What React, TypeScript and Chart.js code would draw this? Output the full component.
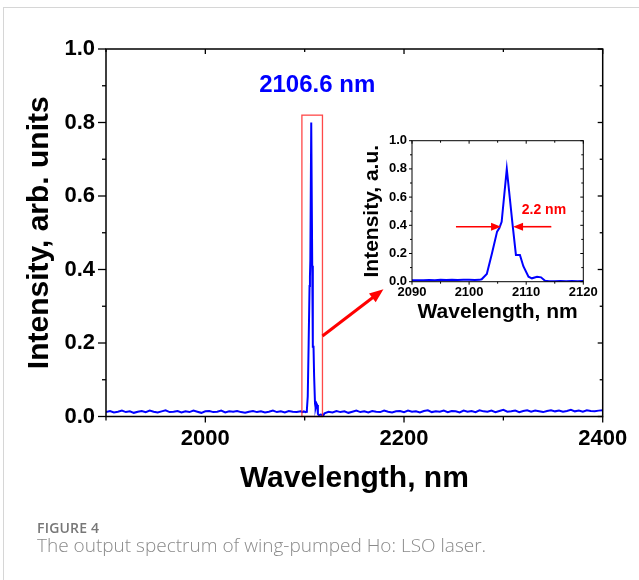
import React, { useEffect, useRef } from "react";
import { Chart, registerables } from "chart.js";

Chart.register(...registerables);

// ---------- data ----------
const MAIN_X_MIN = 1900;
const MAIN_X_MAX = 2400;
const MAIN_X_LABELS = [2000, 2200, 2400];
const MAIN_X_MINOR = [1900, 2100, 2300];
const MAIN_Y_LABELS = [0, 0.2, 0.4, 0.6, 0.8, 1.0];
const MAIN_Y_MINOR = [0.1, 0.3, 0.5, 0.7, 0.9];

// background noise of the full spectrum (sampled every 4 nm)
const BASE_STEP = 4;
const BASE_LEFT_START = 1900;
const BASE_LEFT = [
  0.012, 0.015, 0.011, 0.013, 0.016, 0.012, 0.014, 0.010, 0.013, 0.015,
  0.012, 0.016, 0.013, 0.011, 0.014, 0.017, 0.012, 0.013, 0.015, 0.011,
  0.014, 0.012, 0.016, 0.013, 0.010, 0.014, 0.015, 0.012, 0.013, 0.016,
  0.011, 0.014, 0.013, 0.015, 0.012, 0.010, 0.013, 0.015, 0.012, 0.014,
  0.011, 0.013, 0.016, 0.012, 0.014, 0.011, 0.015, 0.013, 0.012, 0.014,
];
const BASE_RIGHT_START = 2120;
const BASE_RIGHT = [
  0.009, 0.013, 0.011, 0.015, 0.012, 0.014, 0.010, 0.013, 0.016, 0.012,
  0.014, 0.011, 0.015, 0.013, 0.012, 0.016, 0.013, 0.011, 0.014, 0.015,
  0.012, 0.016, 0.013, 0.014, 0.011, 0.015, 0.017, 0.012, 0.014, 0.013,
  0.016, 0.012, 0.015, 0.014, 0.011, 0.016, 0.013, 0.015, 0.012, 0.017,
  0.014, 0.013, 0.016, 0.012, 0.015, 0.018, 0.013, 0.014, 0.016, 0.012,
  0.015, 0.017, 0.013, 0.016, 0.014, 0.012, 0.015, 0.017, 0.014, 0.016,
  0.013, 0.015, 0.018, 0.014, 0.016, 0.013, 0.017, 0.015, 0.014, 0.016,
  0.017,
];

// lasing line (used in the main plot and in the inset)
const PEAK_WL = [
  2090, 2091, 2092, 2093, 2094, 2095, 2096, 2097, 2098, 2099,
  2100, 2101, 2101.8, 2102.2, 2103.1, 2104.0, 2104.9, 2105.3, 2105.7, 2106.6,
  2107.6, 2108.2, 2108.9, 2109.5, 2110.4, 2111.0, 2111.9, 2112.6, 2113.3, 2114.0,
  2115, 2116, 2117, 2118, 2119, 2120,
];
const PEAK_INT = [
  0.010, 0.011, 0.010, 0.012, 0.011, 0.013, 0.012, 0.013, 0.012, 0.014,
  0.013, 0.012, 0.013, 0.017, 0.055, 0.20, 0.355, 0.38, 0.425, 0.80,
  0.41, 0.19, 0.19, 0.11, 0.035, 0.024, 0.035, 0.031, 0.007, 0.004,
  0.004, 0.005, 0.004, 0.005, 0.004, 0.005,
];

const INSET_X_MIN = 2090;
const INSET_X_MAX = 2120;
const INSET_X_LABELS = [2090, 2100, 2110, 2120];
const INSET_X_MINOR = [2095, 2105, 2115];
const INSET_Y_LABELS = [0, 0.2, 0.4, 0.6, 0.8, 1.0];
const INSET_Y_MINOR = [0.1, 0.3, 0.5, 0.7, 0.9];

// annotations (data units)
const PEAK_LABEL = "2106.6 nm";
const PEAK_LABEL_AT = [2112.6, 0.9];
const ZOOM_BOX = [2097.2, 0, 2117.9, 0.82];
const ZOOM_ARROW = [2117.9, 0.219, 2179.3, 0.346];
const FWHM_LABEL = "2.2 nm";
const FWHM_LABEL_AT = [2113.1, 0.505];
const FWHM_LEVEL = 0.39;
const FWHM_LEFT_ARROW = [2097.7, 2105.6];
const FWHM_RIGHT_ARROW = [2114.4, 2107.7];

const CAPTION_LABEL = "FIGURE 4";
const CAPTION_TEXT = "The output spectrum of wing-pumped Ho: LSO laser.";

// ---------- helpers ----------
const FONT = "'Liberation Sans', Arial, Helvetica, sans-serif";
const BLUE = "rgb(0,0,255)";
const RED = "rgb(255,0,0)";

function line(ctx: CanvasRenderingContext2D, x1: number, y1: number, x2: number, y2: number) {
  ctx.beginPath();
  ctx.moveTo(x1, y1);
  ctx.lineTo(x2, y2);
  ctx.stroke();
}

function arrow(
  ctx: CanvasRenderingContext2D,
  x1: number, y1: number, x2: number, y2: number,
  headLen: number, headHalf: number, width: number, color: string
) {
  const ang = Math.atan2(y2 - y1, x2 - x1);
  const bx = x2 - headLen * Math.cos(ang);
  const by = y2 - headLen * Math.sin(ang);
  ctx.save();
  ctx.strokeStyle = color;
  ctx.fillStyle = color;
  ctx.lineWidth = width;
  line(ctx, x1, y1, bx + Math.cos(ang), by + Math.sin(ang));
  ctx.beginPath();
  ctx.moveTo(x2, y2);
  ctx.lineTo(bx + headHalf * Math.sin(ang), by - headHalf * Math.cos(ang));
  ctx.lineTo(bx - headHalf * Math.sin(ang), by + headHalf * Math.cos(ang));
  ctx.closePath();
  ctx.fill();
  ctx.restore();
}

function frameAndTicks(
  chart: any,
  xMajor: number[], xMinor: number[], yMajor: number[], yMinor: number[],
  t: { frame: number; tick: number; outMaj: number; outMin: number; outMajX: number; outMinX: number; inMaj: number; inMin: number }
) {
  const ctx: CanvasRenderingContext2D = chart.ctx;
  const ca = chart.chartArea;
  const xs = chart.scales.x;
  const ys = chart.scales.y;
  ctx.save();
  ctx.strokeStyle = "#000";
  ctx.lineWidth = t.frame;
  ctx.strokeRect(ca.left, ca.top, ca.right - ca.left, ca.bottom - ca.top);
  ctx.lineWidth = t.tick;
  const xt = (v: number, out: number, inn: number) => {
    const p = xs.getPixelForValue(v);
    line(ctx, p, ca.bottom, p, ca.bottom + out);
    line(ctx, p, ca.top, p, ca.top + inn);
  };
  const yt = (v: number, out: number, inn: number) => {
    const p = ys.getPixelForValue(v);
    line(ctx, ca.left - out, p, ca.left, p);
    line(ctx, ca.right, p, ca.right - inn, p);
  };
  xMajor.forEach((v) => xt(v, t.outMajX, t.inMaj));
  xMinor.forEach((v) => xt(v, t.outMinX, t.inMin));
  yMajor.forEach((v) => yt(v, t.outMaj, t.inMaj));
  yMinor.forEach((v) => yt(v, t.outMin, t.inMin));
  ctx.restore();
}

function fixedTicks(values: number[]) {
  return (s: any) => {
    s.ticks = values.map((v) => ({ value: v }));
  };
}

// ---------- component ----------
export default function App() {
  const mainRef = useRef<HTMLCanvasElement | null>(null);
  const insetRef = useRef<HTMLCanvasElement | null>(null);

  useEffect(() => {
    Chart.defaults.font.family = FONT;
    Chart.defaults.color = "#000";

    const mainData: { x: number; y: number }[] = [];
    BASE_LEFT.forEach((y, i) => mainData.push({ x: BASE_LEFT_START + i * BASE_STEP, y }));
    const lastLeft = BASE_LEFT_START + (BASE_LEFT.length - 1) * BASE_STEP;
    PEAK_WL.forEach((x, i) => {
      if (x > lastLeft && x < BASE_RIGHT_START) mainData.push({ x, y: PEAK_INT[i] });
    });
    BASE_RIGHT.forEach((y, i) => mainData.push({ x: BASE_RIGHT_START + i * BASE_STEP, y }));

    const insetData = PEAK_WL.map((x, i) => ({ x, y: PEAK_INT[i] }));

    const mainPlugin = {
      id: "mainDeco",
      afterDatasetsDraw(chart: any) {
        const ctx: CanvasRenderingContext2D = chart.ctx;
        const xs = chart.scales.x;
        const ys = chart.scales.y;
        ctx.save();
        ctx.strokeStyle = "rgba(255,40,40,0.85)";
        ctx.lineWidth = 1.3;
        const bx1 = xs.getPixelForValue(ZOOM_BOX[0]);
        const by1 = ys.getPixelForValue(ZOOM_BOX[1]);
        const bx2 = xs.getPixelForValue(ZOOM_BOX[2]);
        const by2 = ys.getPixelForValue(ZOOM_BOX[3]);
        ctx.strokeRect(bx1, by2, bx2 - bx1, by1 - by2);
        arrow(
          ctx,
          xs.getPixelForValue(ZOOM_ARROW[0]), ys.getPixelForValue(ZOOM_ARROW[1]),
          xs.getPixelForValue(ZOOM_ARROW[2]), ys.getPixelForValue(ZOOM_ARROW[3]),
          14, 5.5, 3, RED
        );
        ctx.fillStyle = BLUE;
        ctx.font = `bold 24px ${FONT}`;
        ctx.textAlign = "center";
        ctx.textBaseline = "middle";
        ctx.fillText(PEAK_LABEL, xs.getPixelForValue(PEAK_LABEL_AT[0]), ys.getPixelForValue(PEAK_LABEL_AT[1]));
        ctx.restore();
      },
      afterDraw(chart: any) {
        frameAndTicks(chart, MAIN_X_LABELS, MAIN_X_MINOR, MAIN_Y_LABELS, MAIN_Y_MINOR, {
          frame: 1.5, tick: 1.3, outMaj: 8, outMin: 4, outMajX: 6, outMinX: 4, inMaj: 5, inMin: 3,
        });
      },
    };

    const insetPlugin = {
      id: "insetDeco",
      afterDatasetsDraw(chart: any) {
        const ctx: CanvasRenderingContext2D = chart.ctx;
        const xs = chart.scales.x;
        const ys = chart.scales.y;
        const yl = ys.getPixelForValue(FWHM_LEVEL);
        arrow(ctx, xs.getPixelForValue(FWHM_LEFT_ARROW[0]), yl, xs.getPixelForValue(FWHM_LEFT_ARROW[1]), yl, 10, 4, 1.6, RED);
        arrow(ctx, xs.getPixelForValue(FWHM_RIGHT_ARROW[0]), yl, xs.getPixelForValue(FWHM_RIGHT_ARROW[1]), yl, 10, 4, 1.6, RED);
        ctx.save();
        ctx.fillStyle = RED;
        ctx.font = `bold 14px ${FONT}`;
        ctx.textAlign = "center";
        ctx.textBaseline = "middle";
        ctx.fillText(FWHM_LABEL, xs.getPixelForValue(FWHM_LABEL_AT[0]), ys.getPixelForValue(FWHM_LABEL_AT[1]));
        ctx.restore();
      },
      afterDraw(chart: any) {
        frameAndTicks(chart, INSET_X_LABELS, INSET_X_MINOR, INSET_Y_LABELS, INSET_Y_MINOR, {
          frame: 1, tick: 1, outMaj: 3, outMin: 2, outMajX: 3, outMinX: 2, inMaj: 3, inMin: 2,
        });
      },
    };

    const main = new Chart(mainRef.current!, {
      type: "line",
      data: {
        datasets: [
          {
            data: mainData,
            borderColor: BLUE,
            borderWidth: 2,
            pointRadius: 0,
            tension: 0,
            fill: false,
          },
        ],
      },
      options: {
        responsive: false,
        animation: false,
        events: [],
        layout: { padding: { left: 0, top: 49, right: 36.3, bottom: 83.5 } },
        plugins: { legend: { display: false }, tooltip: { enabled: false } },
        scales: {
          x: {
            type: "linear",
            min: MAIN_X_MIN,
            max: MAIN_X_MAX,
            afterBuildTicks: fixedTicks(MAIN_X_LABELS),
            afterFit: (s: any) => { s.height = 80; },
            grid: { display: false, drawTicks: false, tickLength: 0 },
            border: { display: false },
            ticks: {
              font: { size: 22, weight: "bold" },
              color: "#000",
              padding: 9,
              maxRotation: 0,
              autoSkip: false,
              callback: (v: any) => String(v),
            },
            title: {
              display: true,
              text: "Wavelength, nm",
              font: { size: 30, weight: "bold" },
              color: "#000",
              padding: { top: 0, bottom: 0 },
            },
          },
          y: {
            type: "linear",
            min: 0,
            max: 1,
            afterBuildTicks: fixedTicks(MAIN_Y_LABELS),
            afterFit: (s: any) => { s.width = 106; },
            grid: { display: false, drawTicks: false, tickLength: 0 },
            border: { display: false },
            ticks: {
              font: { size: 22, weight: "bold" },
              color: "#000",
              padding: 11,
              autoSkip: false,
              callback: (v: any) => Number(v).toFixed(1),
            },
            title: {
              display: true,
              text: "Intensity, arb. units",
              font: { size: 30, weight: "bold" },
              color: "#000",
              padding: { top: 22, bottom: 0 },
            },
          },
        },
      },
      plugins: [mainPlugin],
    } as any);

    const inset = new Chart(insetRef.current!, {
      type: "line",
      data: {
        datasets: [
          {
            data: insetData,
            borderColor: BLUE,
            borderWidth: 2,
            pointRadius: 0,
            tension: 0,
            fill: false,
          },
        ],
      },
      options: {
        responsive: false,
        animation: false,
        events: [],
        layout: { padding: { left: 0, top: 20.7, right: 26.7, bottom: 8.3 } },
        plugins: { legend: { display: false }, tooltip: { enabled: false } },
        scales: {
          x: {
            type: "linear",
            min: INSET_X_MIN,
            max: INSET_X_MAX,
            afterBuildTicks: fixedTicks(INSET_X_LABELS),
            afterFit: (s: any) => { s.height = 50; },
            grid: { display: false, drawTicks: false, tickLength: 0 },
            border: { display: false },
            ticks: {
              font: { size: 13, weight: "bold" },
              color: "#000",
              padding: 3,
              maxRotation: 0,
              autoSkip: false,
              callback: (v: any) => String(v),
            },
            title: {
              display: true,
              text: "Wavelength, nm",
              font: { size: 21, weight: "bold" },
              color: "#000",
              padding: { top: 0, bottom: 7 },
            },
          },
          y: {
            type: "linear",
            min: 0,
            max: 1,
            afterBuildTicks: fixedTicks(INSET_Y_LABELS),
            afterFit: (s: any) => { s.width = 72; },
            grid: { display: false, drawTicks: false, tickLength: 0 },
            border: { display: false },
            ticks: {
              font: { size: 13, weight: "bold" },
              color: "#000",
              padding: 5,
              autoSkip: false,
              callback: (v: any) => Number(v).toFixed(1),
            },
            title: {
              display: true,
              text: "Intensity, a.u.",
              font: { size: 21, weight: "bold" },
              color: "#000",
              padding: { top: 20, bottom: 0 },
            },
          },
        },
      },
      plugins: [insetPlugin],
    } as any);

    return () => {
      main.destroy();
      inset.destroy();
    };
  }, []);

  return (
    <div
      style={{
        position: "absolute",
        left: 0,
        top: 0,
        width: 639,
        height: 580,
        background: "#fff",
        overflow: "hidden",
      }}
    >
      <div
        style={{
          position: "absolute",
          left: 3,
          top: 7,
          right: 0,
          bottom: 0,
          borderTop: "1px solid #d6d6d6",
          borderLeft: "1px solid #d6d6d6",
        }}
      />
      <canvas
        ref={mainRef}
        width={639}
        height={580}
        style={{ position: "absolute", left: 0, top: 0, width: 639, height: 580 }}
      />
      <canvas
        ref={insetRef}
        width={270}
        height={220}
        style={{ position: "absolute", left: 340, top: 120, width: 270, height: 220 }}
      />
      <div
        style={{
          position: "absolute",
          left: 37,
          top: 521,
          fontFamily: "'Open Sans', sans-serif",
          fontSize: 14,
          lineHeight: "14px",
          fontWeight: 600,
          letterSpacing: 0.2,
          color: "#777",
          whiteSpace: "nowrap",
        }}
      >
        {CAPTION_LABEL}
      </div>
      <div
        style={{
          position: "absolute",
          left: 37,
          top: 536,
          fontFamily: "'Open Sans', sans-serif",
          fontSize: 19,
          lineHeight: "19px",
          fontWeight: 300,
          color: "#8a8a8a",
          whiteSpace: "nowrap",
        }}
      >
        {CAPTION_TEXT}
      </div>
    </div>
  );
}
